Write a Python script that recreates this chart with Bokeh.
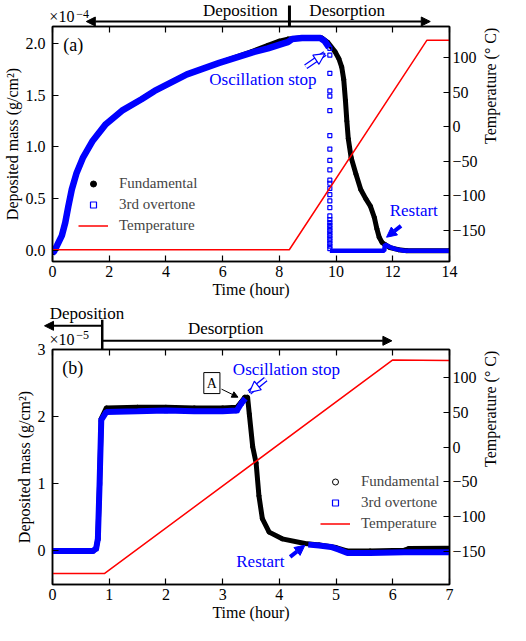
import math
from bokeh.plotting import figure
from bokeh.models import Range1d, LinearAxis, FixedTicker, Label, Arrow, NormalHead, Legend, LegendItem
from bokeh.layouts import column
from bokeh.embed import file_html
from bokeh.resources import INLINE

FONT = "Liberation Serif, Times New Roman, serif"
BLUE = "#0000ff"
RED = "#ff0000"

# ---------------- Panel (a) data (mass in 1e-4 g/cm^2) ----------------
a_over_time = [0.0, 0.05, 0.16, 0.33, 0.45, 0.56, 0.68, 0.85, 1.08, 1.42, 1.88, 2.45, 3.14, 3.6,
               4.74, 5.88, 7.03, 7.6, 8.18, 8.3, 8.45, 8.8, 9.2, 9.45, 9.6, 9.75]
a_over = [-0.02, -0.01, 0.05, 0.145, 0.27, 0.43, 0.59, 0.75, 0.90, 1.06, 1.22, 1.35, 1.46, 1.54,
          1.70, 1.81, 1.91, 1.95, 2.00, 2.01, 2.04, 2.05, 2.05, 2.05, 2.02, 1.96]
a_col_mass = [1.95, 1.885, 1.71, 1.54, 1.49, 1.35, 1.11, 0.98, 0.87, 0.78, 0.68, 0.65, 0.60, 0.54,
              0.48, 0.415, 0.335, 0.30, 0.27, 0.245, 0.22, 0.195, 0.17, 0.145, 0.12, 0.095, 0.07,
              0.045, 0.02]
a_col_time = [9.78] * len(a_col_mass)
a_after_time = [9.78, 11.70, 11.72, 11.9, 12.1, 12.4, 13.0, 14.0]
a_after = [0.0, 0.0, 0.06, 0.035, 0.015, 0.0, 0.0, 0.0]
a_fund_time = [0.0, 0.05, 0.16, 0.33, 0.45, 0.56, 0.68, 0.85, 1.08, 1.42, 1.88, 2.45, 3.14, 3.6,
               4.74, 5.88, 7.03, 7.6, 8.0, 8.3, 8.8, 9.2, 9.5, 9.7, 9.96, 10.1, 10.2, 10.27, 10.33,
               10.38, 10.43, 10.53, 10.7, 10.87, 11.05, 11.21, 11.35, 11.44, 11.52, 11.62, 11.72,
               11.9, 12.2, 12.5, 14.0]
a_fund = [-0.02, -0.01, 0.05, 0.145, 0.27, 0.43, 0.59, 0.75, 0.90, 1.06, 1.22, 1.35, 1.46, 1.54,
          1.70, 1.81, 1.92, 1.98, 2.02, 2.04, 2.05, 2.05, 2.05, 2.01, 1.92, 1.85, 1.77, 1.65, 1.45,
          1.25, 1.08, 0.90, 0.74, 0.59, 0.50, 0.43, 0.32, 0.21, 0.13, 0.08, 0.06,
          0.03, 0.01, 0.0, 0.0]
a_temp_time = [0.0, 8.35, 13.2, 14.0]
a_temp = [-178, -178, 125, 125]

a_xticks = [0, 2, 4, 6, 8, 10, 12, 14]
a_yticks = [0.0, 0.5, 1.0, 1.5, 2.0]
a_ylabels = ["0.0", "0.5", "1.0", "1.5", "2.0"]

# ---------------- Panel (b) data (mass in 1e-5 g/cm^2) ----------------
b_over_time = [0.0, 0.4, 0.71, 0.77, 0.80, 0.83, 0.86, 0.95, 1.5, 2.0, 2.5, 3.0, 3.25, 3.33, 3.40]
b_over = [0.0, 0.0, 0.0, 0.035, 0.18, 1.0, 1.95, 2.07, 2.08, 2.09, 2.08, 2.08, 2.09, 2.20, 2.27]
b_over2_time = [4.51, 4.7, 4.91, 5.05, 5.2, 5.6, 6.2, 7.0]
b_over2 = [0.094, 0.08, 0.06, 0.02, -0.03, -0.03, -0.02, -0.02]
b_fund_time = [0.0, 0.71, 0.77, 0.80, 0.83, 0.86, 0.95, 1.5, 2.0, 2.5, 3.0, 3.25, 3.33, 3.39, 3.44,
               3.47, 3.53, 3.59, 3.64, 3.70, 3.82, 4.05, 4.45, 4.7, 5.0, 5.19, 5.6, 6.2, 6.28, 7.0]
b_fund = [0.0, 0.0, 0.035, 0.18, 1.0, 1.97, 2.13, 2.14, 2.14, 2.13, 2.13, 2.14, 2.22, 2.29, 2.29,
          2.04, 1.55, 1.31, 0.82, 0.48, 0.28, 0.18, 0.11, 0.09, 0.05, 0.0, 0.0, 0.01, 0.035, 0.04]
b_temp_time = [0.0, 0.92, 6.0, 7.0]
b_temp = [-182, -182, 126, 125]

b_xticks = [0, 1, 2, 3, 4, 5, 6, 7]
b_yticks = [0, 1, 2, 3]
b_ylabels = ["0", "1", "2", "3"]

t_ticks = [-150, -100, -50, 0, 50, 100]
t_labels = ["\u2212150", "\u2212100", "\u221250", "0", "50", "100"]

FRAME_W = 404
LEFT_B = 48
RIGHT_B = 58
Y_STANDOFF = 7


def make_fig(frame_h, top, xr, yr, tr, xticks, yticks, ylabels):
    # the panel's transparent top border slides under the strip above it
    p = figure(width=510, height=top + frame_h + 41, x_range=Range1d(*xr), y_range=Range1d(*yr),
               output_backend="svg", toolbar_location=None,
               min_border_left=LEFT_B, min_border_right=RIGHT_B, min_border_top=top,
               min_border_bottom=41, margin=(-top, 0, 0, 0))
    p.extra_y_ranges = {"temp": Range1d(*tr)}
    p.background_fill_color = "white"
    p.border_fill_color = "white"
    p.border_fill_alpha = 0
    p.xgrid.visible = False
    p.ygrid.visible = False
    p.outline_line_color = "black"
    p.outline_line_width = 1.5
    p.outline_line_alpha = 1.0

    def style(ax, size="16px"):
        ax.major_tick_in = 6
        ax.major_tick_out = 0
        ax.minor_tick_line_color = None
        ax.axis_line_width = 1.5
        ax.major_tick_line_width = 1.2
        ax.major_label_text_font = FONT
        ax.major_label_text_font_size = size
        ax.major_label_text_color = "black"
        ax.axis_label_text_font = FONT
        ax.axis_label_text_font_size = "16px"
        ax.axis_label_text_font_style = "normal"
        ax.axis_label_text_color = "black"

    xa = p.xaxis[0]
    style(xa)
    xa.ticker = FixedTicker(ticks=xticks)
    xa.axis_label = "Time (hour)"
    xa.major_label_standoff = 4
    xa.axis_label_standoff = 1

    ya = p.yaxis[0]
    style(ya)
    ya.ticker = FixedTicker(ticks=yticks)
    ya.major_label_overrides = {v: s for v, s in zip(yticks, ylabels)}
    ya.axis_label = "Deposited mass (g/cm\u00b2)"
    ya.major_label_standoff = Y_STANDOFF
    ya.axis_label_standoff = 2

    top_ax = LinearAxis(ticker=FixedTicker(ticks=xticks))
    style(top_ax, "0px")
    top_ax.major_label_standoff = 0
    top_ax.major_label_text_color = None
    p.add_layout(top_ax, "above")

    ra = LinearAxis(y_range_name="temp", ticker=FixedTicker(ticks=t_ticks))
    style(ra)
    ra.major_label_overrides = {v: s for v, s in zip(t_ticks, t_labels)}
    ra.axis_label = "Temperature (\u00b0 C)"
    ra.major_label_standoff = 3
    ra.axis_label_standoff = 2
    if "axis_label_orientation" in ra.properties():
        ra.axis_label_orientation = math.pi / 2
    p.add_layout(ra, "right")
    return p


def header(height, xr):
    # strip above a panel; its x scale matches the panel's frame
    x0, x1 = xr
    ext = (x1 - x0) / FRAME_W
    probe = figure(width=10, height=10)
    free = "frame_align" in probe.properties()
    if free:
        rng = Range1d(x0 - LEFT_B * ext, x1 + RIGHT_B * ext)
        lb, rb = 0, 0
    else:
        rng = Range1d(x0, x1)
        lb, rb = LEFT_B, RIGHT_B
    h = figure(width=510, height=height, x_range=rng, y_range=Range1d(0, height),
               min_border_left=lb, min_border_right=rb, min_border_top=0, min_border_bottom=0,
               x_axis_location=None, y_axis_location=None,
               output_backend="svg", toolbar_location=None)
    if free:
        h.frame_align = False
    h.outline_line_color = None
    h.xgrid.visible = False
    h.ygrid.visible = False
    h.background_fill_color = "white"
    h.border_fill_color = "white"
    return h, free


def label(p, x, y, text, size="17px", color="black", align="left", baseline="middle", **kw):
    p.add_layout(Label(x=x, y=y, text=text, text_font=FONT, text_font_size=size,
                       text_color=color, text_align=align, text_baseline=baseline, **kw))


def arrow(p, xs, ys, xe, ye, width=2, color="black", head=10, start=False, end=True):
    kw = {}
    kw["end"] = NormalHead(size=head, fill_color=color, line_color=color, line_width=1) if end else None
    kw["start"] = NormalHead(size=head, fill_color=color, line_color=color, line_width=1) if start else None
    p.add_layout(Arrow(x_start=xs, y_start=ys, x_end=xe, y_end=ye, line_color=color,
                       line_width=width, **kw))


def hollow_arrow(p, xs, ys, xe, ye):
    p.add_layout(Arrow(x_start=xs, y_start=ys, x_end=xe, y_end=ye, end=None,
                       line_color=BLUE, line_width=5.5))
    p.add_layout(Arrow(x_start=xs, y_start=ys, x_end=xe, y_end=ye, end=None,
                       line_color="white", line_width=3))
    p.add_layout(Arrow(x_start=xs, y_start=ys, x_end=xe, y_end=ye, line_alpha=0,
                       end=NormalHead(size=11, fill_color="white", line_color=BLUE, line_width=1.2)))


def legend(p, renderers, loc, glyph_w):
    names = ["Fundamental", "3rd overtone", "Temperature"]
    leg = Legend(items=[LegendItem(label=n, renderers=[r]) for n, r in zip(names, renderers)],
                 location=loc, padding=0, margin=0, spacing=4, glyph_width=glyph_w,
                 glyph_height=15, label_height=15, label_standoff=11,
                 label_text_font=FONT, label_text_font_size="15px",
                 background_fill_alpha=0, border_line_alpha=0)
    p.add_layout(leg)


# ================= Panel (a) =================
ha, free_a = header(26, (0, 14))
label(ha, 7.94, 16, "Deposition", align="right")
label(ha, 9.04, 16, "Desorption")
arrow(ha, 1.31, 5, 13.23, 5, width=2, head=9, start=True, end=True)
arrow(ha, 8.35, 0, 8.35, 21, width=3, end=False)
label(ha, 0.03, 1.5, "\u00d710", size="16px", baseline="bottom")
label(ha, 0.96, 12.8, "\u22124", size="12px")

pa = make_fig(235, 4, (0, 14), (-0.104, 2.161), (-195, 145), a_xticks, a_yticks, a_ylabels)
ra_f = pa.scatter(a_fund_time, a_fund, marker="circle", size=4, color="black")
pa.line(a_fund_time, a_fund, line_color="black", line_width=5)
pa.line(a_over_time, a_over, line_color=BLUE, line_width=6.5)
pa.line(a_after_time, a_after, line_color=BLUE, line_width=4.5)
ra_o = pa.scatter(a_col_time, a_col_mass, marker="square", size=4, line_color=BLUE,
                  fill_color=None, line_width=1.2)
ra_t = pa.line(a_temp_time, a_temp, line_color=RED, line_width=1.5, y_range_name="temp")
legend(pa, [ra_f, ra_o, ra_t], (26, 27), 30)

label(pa, 0.38, 1.98, "(a)", size="18px")
label(pa, 5.53, 1.65, "Oscillation stop", color=BLUE)
hollow_arrow(pa, 8.93, 1.774, 9.61, 1.90)
label(pa, 11.89, 0.392, "Restart", color=BLUE)
arrow(pa, 12.29, 0.24, 11.78, 0.13, width=4, color=BLUE, head=10)

# ================= Panel (b) =================
hb, free_b = header(47, (0, 7))
label(hb, 0.667, 36.5, "Deposition", align="center")
label(hb, 3.07, 20.7, "Desorption", align="center")
arrow(hb, 0.931, 23.7, -0.069 if free_b else 0.0, 23.7, width=2, head=9)
arrow(hb, 0.931, 0, 0.931, 29.7, width=2.5, end=False)
arrow(hb, 0.931, 8.7, 5.95, 8.7, width=2, head=9)
label(hb, 0.017, 1.5, "\u00d710", size="16px", baseline="bottom")
label(hb, 0.48, 14.2, "\u22125", size="12px")

pb = make_fig(235, 11, (0, 7), (-0.5, 3.0), (-198, 141), b_xticks, b_yticks, b_ylabels)
rb_f = pb.scatter(b_fund_time, b_fund, marker="circle", size=4, line_color="black",
                  fill_color=None, line_width=1)
rb_o = pb.scatter(b_over_time, b_over, marker="square", size=4, line_color=BLUE,
                  fill_color=None, line_width=1.2)
pb.line(b_fund_time, b_fund, line_color="black", line_width=5)
pb.line(b_over_time, b_over, line_color=BLUE, line_width=6)
pb.line(b_over2_time, b_over2, line_color=BLUE, line_width=6)
rb_t = pb.line(b_temp_time, b_temp, line_color=RED, line_width=1.5, y_range_name="temp")
legend(pb, [rb_f, rb_o, rb_t], (268, 52), 30)

label(pb, 0.17, 2.73, "(b)", size="18px")
label(pb, 2.81, 2.50, "A", size="14px", align="center", border_line_color="black",
      border_line_width=1, background_fill_color="white", padding=3)
arrow(pb, 2.98, 2.41, 3.27, 2.29, width=1, head=6)
label(pb, 3.18, 2.70, "Oscillation stop", color=BLUE)
hollow_arrow(pb, 3.76, 2.56, 3.47, 2.36)
label(pb, 3.24, -0.15, "Restart", color=BLUE)
arrow(pb, 4.19, -0.088, 4.45, 0.084, width=4, color=BLUE, head=10)

layout = column(ha, pa, hb, pb, spacing=0)
open("out.html", "w").write(file_html(layout, INLINE))
